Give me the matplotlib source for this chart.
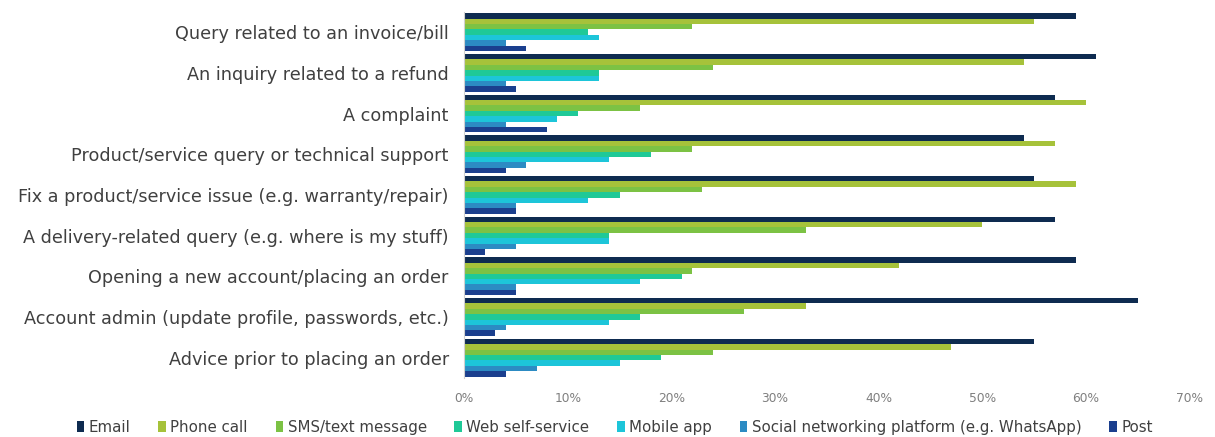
import matplotlib
matplotlib.use("Agg")
import matplotlib.pyplot as plt
import numpy as np

categories = [
    "Query related to an invoice/bill",
    "An inquiry related to a refund",
    "A complaint",
    "Product/service query or technical support",
    "Fix a product/service issue (e.g. warranty/repair)",
    "A delivery-related query (e.g. where is my stuff)",
    "Opening a new account/placing an order",
    "Account admin (update profile, passwords, etc.)",
    "Advice prior to placing an order",
]

series_names = [
    "Email",
    "Phone call",
    "SMS/text message",
    "Web self-service",
    "Mobile app",
    "Social networking platform (e.g. WhatsApp)",
    "Post",
]

email = [59, 61, 57, 54, 55, 57, 59, 65, 55]
phone_call = [55, 54, 60, 57, 59, 50, 42, 33, 47]
sms = [22, 24, 17, 22, 23, 33, 22, 27, 24]
web_self_service = [12, 13, 11, 18, 15, 14, 21, 17, 19]
mobile_app = [13, 13, 9, 14, 12, 14, 17, 14, 15]
social = [4, 4, 4, 6, 5, 5, 5, 4, 7]
post = [6, 5, 8, 4, 5, 2, 5, 3, 4]

series_values = [email, phone_call, sms, web_self_service, mobile_app, social, post]
colors = ["#0e2b50", "#a6c23a", "#7cc244", "#1fc997", "#1dc5d9", "#2c8bc3", "#1b3f8e"]

x_ticks = [0, 10, 20, 30, 40, 50, 60, 70]
x_tick_labels = [f"{t}%" for t in x_ticks]

FONT = "DejaVu Sans"

fig = plt.figure(figsize=(12.15, 4.37), dpi=100)
ax = fig.add_axes([0.382, 0.135, 0.597, 0.838])

n_series = len(series_names)
bar_h = 0.133
group_pos = np.arange(len(categories))
for i, (name, vals, col) in enumerate(zip(series_names, series_values, colors)):
    offs = (i - (n_series - 1) / 2) * bar_h
    ax.barh(group_pos + offs, vals, height=bar_h, color=col, label=name,
            edgecolor="none")

ax.set_ylim(len(categories) - 0.5, -0.5)
ax.set_xlim(0, 70)
ax.set_xticks(x_ticks)
ax.set_xticklabels(x_tick_labels, color="#7f7f7f", fontsize=8.8, family=FONT)
ax.set_yticks(group_pos)
ax.set_yticklabels(categories, color="#404040", fontsize=12.7, family=FONT)
ax.tick_params(axis="both", length=0)
ax.tick_params(axis="y", pad=11)
ax.tick_params(axis="x", pad=10)

for side in ["top", "right", "bottom"]:
    ax.spines[side].set_visible(False)
ax.spines["left"].set_color("#d0d0d0")
ax.spines["left"].set_linewidth(0.8)

handles, labels = ax.get_legend_handles_labels()
fig.legend(handles, labels, loc="center", bbox_to_anchor=(0.506, 0.022),
           ncol=n_series, frameon=False, handlelength=0.5, handleheight=0.7,
           handletextpad=0.3, columnspacing=1.85,
           prop={"family": FONT, "size": 10.8}, labelcolor="#404040")

fig.savefig("out.png", dpi=100)
